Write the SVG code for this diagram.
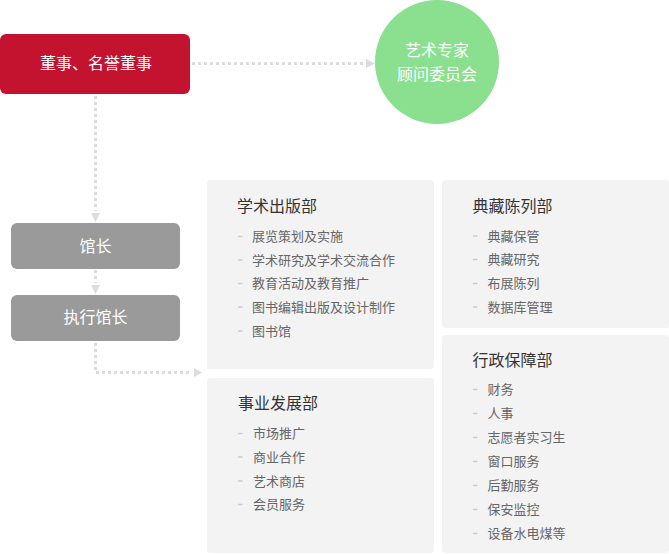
<svg xmlns="http://www.w3.org/2000/svg" width="669" height="554" viewBox="0 0 669 554">
<style>
text{font-family:"Noto Sans CJK SC","Microsoft YaHei",sans-serif}
.w{fill:#fff;font-size:16px;text-anchor:middle}
.t{fill:#333;font-size:16px}
.i{fill:#666;font-size:13px}
.panel{fill:#f3f3f3}
.dash{stroke:#ccc;stroke-width:1.5}
.con{fill:none;stroke:#dcdcdc;stroke-width:3;stroke-dasharray:3 3}
.ah{fill:#dcdcdc}
</style>
<rect width="669" height="554" fill="#fff"/>
<g id="connectors">
<path class="con" d="M192,63.5H364"/>
<polygon class="ah" points="366,59 375,63.5 366,68"/>
<path class="con" d="M95.5,96V211"/>
<polygon class="ah" points="91,213 100,213 95.5,222"/>
<path class="con" d="M95.5,270V283"/>
<polygon class="ah" points="91,285 100,285 95.5,294"/>
<path class="con" d="M95.5,343V372.5H192"/>
<polygon class="ah" points="194,368 202,372.5 194,377"/>
</g>
<g id="board">
<rect x="0" y="34" width="190" height="60" rx="6" fill="#c3132f"/>
<text class="w" x="96" y="69">董事、名誉董事</text>
</g>
<g id="advisory">
<circle cx="437" cy="62" r="62" fill="#8be08f"/>
<text class="w" x="437" y="56">艺术专家</text>
<text class="w" x="437" y="80">顾问委员会</text>
</g>
<g id="director">
<rect x="11" y="223" width="169" height="46" rx="6" fill="#9a9a9a"/>
<text class="w" x="95.5" y="251.5">馆长</text>
</g>
<g id="exec-director">
<rect x="11" y="295" width="169" height="46" rx="6" fill="#9a9a9a"/>
<text class="w" x="95.5" y="323">执行馆长</text>
</g>
<g id="academic">
<rect class="panel" x="207" y="180" width="227" height="189" rx="4"/>
<text class="t" x="237" y="211.5">学术出版部</text>
<path class="dash" d="M238,236.5H242.5M238,260H242.5M238,283.5H242.5M238,307H242.5M238,331H242.5"/>
<text class="i" x="252" y="241">展览策划及实施</text>
<text class="i" x="252" y="264.5">学术研究及学术交流合作</text>
<text class="i" x="252" y="288">教育活动及教育推广</text>
<text class="i" x="252" y="311.5">图书编辑出版及设计制作</text>
<text class="i" x="252" y="335.5">图书馆</text>
</g>
<g id="business">
<rect class="panel" x="207" y="378" width="227" height="175" rx="4"/>
<text class="t" x="238" y="408.5">事业发展部</text>
<path class="dash" d="M238,433.5H242.5M238,457H242.5M238,481H242.5M238,504.5H242.5"/>
<text class="i" x="253" y="438">市场推广</text>
<text class="i" x="253" y="461.5">商业合作</text>
<text class="i" x="253" y="485.5">艺术商店</text>
<text class="i" x="253" y="509">会员服务</text>
</g>
<g id="collection">
<rect class="panel" x="442" y="180" width="227" height="148" rx="4"/>
<text class="t" x="472.5" y="211.5">典藏陈列部</text>
<path class="dash" d="M473,236H477.5M473,259.5H477.5M473,283.5H477.5M473,307H477.5"/>
<text class="i" x="487.5" y="240.5">典藏保管</text>
<text class="i" x="487.5" y="264">典藏研究</text>
<text class="i" x="487.5" y="288">布展陈列</text>
<text class="i" x="487.5" y="311.5">数据库管理</text>
</g>
<g id="admin">
<rect class="panel" x="442" y="335" width="227" height="218" rx="4"/>
<text class="t" x="472.5" y="366">行政保障部</text>
<path class="dash" d="M473,389.5H477.5M473,413.5H477.5M473,437.5H477.5M473,461.5H477.5M473,485.5H477.5M473,509.5H477.5M473,533.5H477.5"/>
<text class="i" x="487.5" y="394">财务</text>
<text class="i" x="487.5" y="418">人事</text>
<text class="i" x="487.5" y="442">志愿者实习生</text>
<text class="i" x="487.5" y="466">窗口服务</text>
<text class="i" x="487.5" y="490">后勤服务</text>
<text class="i" x="487.5" y="514">保安监控</text>
<text class="i" x="487.5" y="538">设备水电煤等</text>
</g>
</svg>
